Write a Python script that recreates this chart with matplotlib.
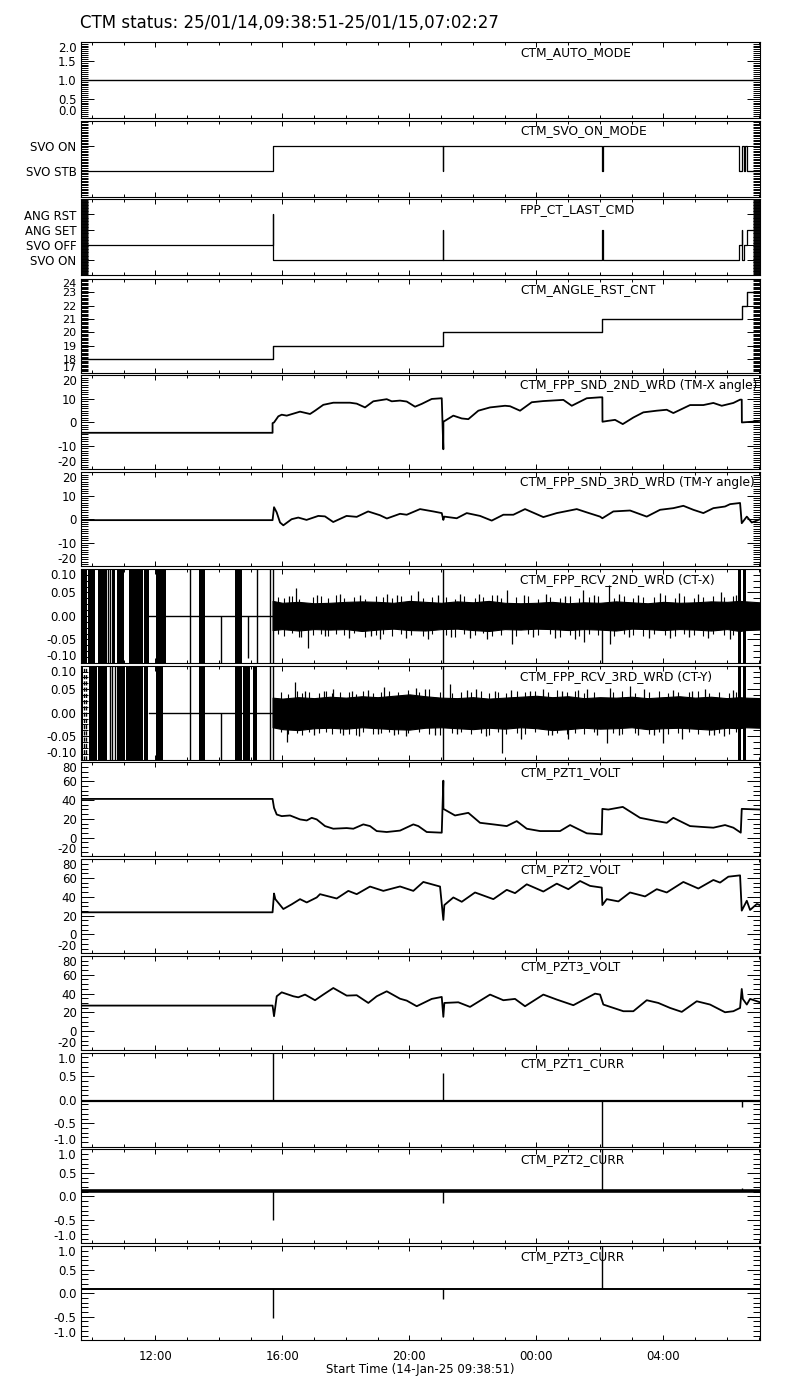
import numpy as np
import matplotlib
matplotlib.use('Agg')
import matplotlib.pyplot as plt
from matplotlib.ticker import MultipleLocator, FixedLocator, FuncFormatter, FormatStrFormatter

# time in hours from 00:00 14-Jan-25
t_start = 9 + 38/60. + 51/3600.
t_end = 24 + 7 + 2/60. + 27/3600.
T1 = 15.69
T2 = 21.07
T3 = 26.08
T4 = 30.466

title = "CTM status: 25/01/14,09:38:51-25/01/15,07:02:27"
xlabel = "Start Time (14-Jan-25 09:38:51)"

names = ["CTM_AUTO_MODE", "CTM_SVO_ON_MODE", "FPP_CT_LAST_CMD", "CTM_ANGLE_RST_CNT",
         "CTM_FPP_SND_2ND_WRD (TM-X angle)", "CTM_FPP_SND_3RD_WRD (TM-Y angle)",
         "CTM_FPP_RCV_2ND_WRD (CT-X)", "CTM_FPP_RCV_3RD_WRD (CT-Y)",
         "CTM_PZT1_VOLT", "CTM_PZT2_VOLT", "CTM_PZT3_VOLT",
         "CTM_PZT1_CURR", "CTM_PZT2_CURR", "CTM_PZT3_CURR"]

# state channels (step data)
auto_t = [t_start, t_end]
auto_v = [1, 1]
svo_t = [t_start, T1, T2, T2+0.001, T3, T3+0.001, 30.39, 30.466, 30.549, 30.58, 30.624, t_end]
svo_v = [0, 1, 0, 1, 0, 1, 0, 1, 0, 1, 0, 0]
svo_labels = ["SVO STB", "SVO ON"]
cmd_t = [t_start, T1, T1+0.001, T2, T2+0.001, T3, T3+0.001, 30.39, 30.466, 30.48, 30.549, 30.624, t_end]
cmd_v = [1, 3, 0, 2, 0, 2, 0, 1, 2, 0, 1, 2, 2]
cmd_labels = ["SVO ON", "SVO OFF", "ANG SET", "ANG RST"]
cnt_t = [t_start, T1, T2, T3, 30.466, 30.625, t_end]
cnt_v = [18, 19, 20, 21, 22, 23, 23]

# TM-X angle
sndx_t = [t_start, 15.69, 15.69, 15.736, 15.871, 15.978, 16.136, 16.555, 16.870, 17.027, 17.288,
          17.603, 18.129, 18.340, 18.602, 18.863, 19.285, 19.443, 19.704, 19.915, 20.177, 20.388,
          20.703, 21.018, 21.068, 21.07, 21.383, 21.648, 21.855, 22.170, 22.539, 23.011, 23.169,
          23.484, 23.852, 24.218, 24.848, 25.113, 25.585, 26.004, 26.076, 26.08, 26.265, 26.476,
          26.719, 27.052, 27.367, 27.789, 28.104, 28.312, 28.838, 29.257, 29.572, 29.836, 30.202,
          30.413, 30.466, 30.47, 30.781, 31.043]
sndx_v = [-4.4, -4.4, -0.3, 0.0, 2.6, 3.3, 2.9, 4.6, 3.6, 5.0, 7.5,
          8.4, 8.4, 8.0, 6.4, 9.0, 9.9, 9.0, 9.3, 8.9, 6.7, 7.9,
          10.0, 10.3, -11.4, 0.3, 2.9, 1.7, 1.4, 5.0, 6.4, 7.1, 6.9,
          5.0, 8.6, 9.1, 9.6, 7.1, 10.3, 10.7, 10.7, 0.3, 0.7, 1.1,
          -0.7, 2.1, 4.3, 5.0, 5.4, 4.0, 7.4, 7.4, 8.3, 7.1, 8.3,
          9.7, 9.7, 0.0, 0.3, 0.7]

# TM-Y angle
sndy_t = [t_start, 15.69, 15.736, 15.82, 15.925, 16.029, 16.29, 16.50, 16.76, 17.13, 17.34,
          17.60, 18.02, 18.34, 18.70, 19.07, 19.29, 19.704, 19.915, 20.334, 20.753, 21.018,
          21.068, 21.10, 21.49, 21.805, 22.224, 22.592, 22.958, 23.273, 23.641, 24.218, 24.640,
          25.270, 25.585, 26.004, 26.076, 26.422, 26.948, 27.474, 27.893, 28.312, 28.627, 28.942,
          29.257, 29.572, 29.940, 30.098, 30.413, 30.466, 30.625, 30.781, 30.940, 31.043]
sndy_v = [-0.4, -0.4, 5.1, 2.9, -1.4, -2.6, 0.0, 0.7, -0.3, 1.4, 1.2,
          -1.2, 1.4, 1.0, 3.3, 1.7, 0.3, 2.3, 1.9, 4.3, 3.3, 2.6,
          -0.3, 1.1, 0.4, 2.6, 1.4, -0.6, 1.9, 1.9, 4.3, 0.9, 2.6,
          4.3, 2.9, 1.1, 0.4, 3.3, 3.7, 1.1, 4.0, 4.7, 5.7, 4.0,
          2.6, 4.7, 5.4, 6.4, 6.9, -1.7, 1.1, -1.4, -0.6, 0.0]

# CT-X / CT-Y receive words: unstable part before servo on
rcvx_blocks = [(9.648, 9.846), (9.877, 10.098), (10.192, 10.476), (10.618, 10.728), (10.791, 11.011),
               (11.169, 11.619), (11.641, 11.799), (12.019, 12.334), (13.373, 13.563), (14.508, 14.728),
               (30.36, 30.435), (30.515, 30.59)]
rcvx_lines = [10.523, 10.570, 13.090, 15.210, 15.610, 15.69, 21.07]
rcvx_part_t = [14.076, 14.926, 26.08]
rcvx_part_v = [-0.1, -0.09, -0.1]
rcvy_blocks = [(9.648, 9.729), (9.918, 10.151), (10.202, 10.466), (10.781, 11.043), (11.074, 11.619),
               (11.641, 11.777), (12.019, 12.249), (13.383, 13.553), (14.517, 14.728), (14.769, 14.980),
               (15.084, 15.210), (30.36, 30.435), (30.515, 30.59)]
rcvy_lines = [10.570, 10.633, 10.728, 13.090, 15.610, 15.69, 21.07]
rcvy_dash = [9.767, 9.814]
rcvy_part_t = [14.076]
rcvy_part_v = [-0.1]
rcv_flat_t = [11.8, 15.69]

# noise band after servo on
env_t = [15.69, 16.0, 16.5, 17.0, 17.5, 18.0, 18.5, 19.0, 19.5, 20.0, 20.5, 21.0, 21.5, 22.0, 22.5,
         23.0, 23.5, 24.0, 24.5, 25.0, 25.5, 26.0, 26.5, 27.0, 27.5, 28.0, 28.5, 29.0, 29.5, 30.0,
         30.4, 30.6, 31.043]
rcvx_hi = [0.032, 0.028, 0.030, 0.027, 0.028, 0.030, 0.031, 0.030, 0.028, 0.032, 0.030, 0.028, 0.031,
           0.029, 0.032, 0.028, 0.027, 0.028, 0.030, 0.027, 0.029, 0.028, 0.031, 0.029, 0.027, 0.030,
           0.028, 0.029, 0.031, 0.030, 0.032, 0.031, 0.029]
rcvx_lo = [-0.030, -0.028, -0.031, -0.028, -0.029, -0.028, -0.032, -0.029, -0.027, -0.030, -0.031,
           -0.028, -0.027, -0.030, -0.032, -0.028, -0.029, -0.027, -0.028, -0.030, -0.028, -0.029,
           -0.031, -0.027, -0.028, -0.030, -0.028, -0.029, -0.031, -0.028, -0.032, -0.030, -0.029]
rcvy_hi = [0.032, 0.030, 0.033, 0.031, 0.034, 0.032, 0.035, 0.033, 0.036, 0.039, 0.035, 0.032, 0.031,
           0.033, 0.030, 0.032, 0.034, 0.036, 0.033, 0.035, 0.031, 0.033, 0.032, 0.034, 0.031, 0.033,
           0.035, 0.032, 0.034, 0.031, 0.033, 0.032, 0.031]
rcvy_lo = [-0.031, -0.035, -0.037, -0.033, -0.032, -0.034, -0.031, -0.033, -0.035, -0.036, -0.032,
           -0.031, -0.033, -0.035, -0.032, -0.034, -0.031, -0.033, -0.037, -0.035, -0.032, -0.034,
           -0.033, -0.031, -0.035, -0.033, -0.032, -0.034, -0.036, -0.032, -0.033, -0.031, -0.032]
# fuzz on the band edges
rcvx_hair_t = [15.85, 16.05, 16.3, 16.52, 16.95, 17.22, 17.45, 17.68, 17.95, 18.25,
               18.6, 18.95, 19.18, 19.45, 19.75, 20.05, 20.42, 20.72, 21.15, 21.42,
               21.72, 22.05, 22.32, 22.6, 22.88, 23.35, 23.72, 24.05, 24.42, 24.75,
               25.05, 25.35, 25.65, 25.95, 26.45, 26.75, 27.05, 27.35, 27.7, 28.05,
               28.35, 28.65, 28.95, 29.25, 29.55, 29.9, 30.2]
rcvx_hair_hi = [0.041, 0.038, 0.043, 0.037, 0.040, 0.042, 0.038, 0.044, 0.039, 0.041,
                0.037, 0.043, 0.040, 0.038, 0.042, 0.045, 0.039, 0.041, 0.040, 0.037,
                0.043, 0.039, 0.041, 0.044, 0.038, 0.040, 0.042, 0.037, 0.041, 0.039,
                0.043, 0.038, 0.040, 0.042, 0.039, 0.043, 0.038, 0.041, 0.040, 0.044,
                0.038, 0.042, 0.039, 0.041, 0.043, 0.040, 0.042]
rcvx_hair_lo = [-0.039, -0.042, -0.037, -0.044, -0.040, -0.038, -0.043, -0.039, -0.041, -0.037,
                -0.044, -0.040, -0.038, -0.042, -0.039, -0.041, -0.043, -0.038, -0.040, -0.044,
                -0.039, -0.041, -0.037, -0.042, -0.040, -0.043, -0.038, -0.041, -0.039, -0.044,
                -0.040, -0.042, -0.038, -0.041, -0.043, -0.039, -0.040, -0.042, -0.038, -0.041,
                -0.043, -0.039, -0.040, -0.042, -0.038, -0.041, -0.040]
rcvy_hair_t = [15.95, 16.18, 16.45, 16.62, 16.85, 17.15, 17.38, 17.55, 17.82, 18.1,
               18.32, 18.55, 18.85, 19.1, 19.35, 19.65, 19.95, 20.3, 20.62, 20.95,
               21.35, 21.62, 21.95, 22.25, 22.52, 22.8, 23.05, 23.4, 23.65, 23.95,
               24.35, 24.65, 24.95, 25.2, 25.5, 25.8, 26.4, 26.7, 27.1, 27.55,
               27.85, 28.15, 28.45, 28.8, 29.1, 29.45, 29.75, 30.05, 30.3]
rcvy_hair_hi = [0.043, 0.040, 0.046, 0.041, 0.044, 0.042, 0.047, 0.041, 0.045, 0.043,
                0.040, 0.046, 0.042, 0.044, 0.047, 0.043, 0.048, 0.045, 0.050, 0.043,
                0.041, 0.045, 0.043, 0.046, 0.041, 0.044, 0.042, 0.046, 0.043, 0.047,
                0.044, 0.048, 0.043, 0.046, 0.042, 0.045, 0.043, 0.046, 0.041, 0.044,
                0.047, 0.042, 0.045, 0.043, 0.046, 0.041, 0.044, 0.042, 0.045]
rcvy_hair_lo = [-0.041, -0.045, -0.043, -0.047, -0.042, -0.044, -0.041, -0.046, -0.043, -0.045,
                -0.048, -0.042, -0.045, -0.043, -0.041, -0.046, -0.044, -0.042, -0.045, -0.047,
                -0.043, -0.041, -0.046, -0.044, -0.047, -0.042, -0.045, -0.043, -0.046, -0.042,
                -0.047, -0.044, -0.045, -0.043, -0.046, -0.041, -0.044, -0.046, -0.043, -0.045,
                -0.042, -0.046, -0.044, -0.041, -0.045, -0.047, -0.043, -0.046, -0.042]
rcvx_spk_t = [16.43, 16.82, 16.2, 16.6, 17.1, 17.35, 17.8, 18.1, 18.45, 18.8, 19.07, 19.3, 19.6, 19.9,
              20.28, 20.6, 20.9, 21.3, 21.6, 21.9, 22.2, 22.45, 22.75, 23.07, 23.22, 23.6, 23.9, 24.3,
              24.6, 24.9, 25.2, 25.48, 25.5, 25.8, 26.27, 26.32, 26.6, 26.9, 27.2, 27.55, 27.9, 28.2,
              28.5, 28.8, 29.1, 29.4, 29.8, 30.1, 30.3]
rcvx_spk_v = [0.060, -0.069, 0.042, -0.045, 0.044, -0.042, 0.047, -0.046, 0.045, -0.043, -0.050, 0.046,
              0.044, -0.047, 0.053, -0.048, 0.045, -0.044, 0.047, -0.046, 0.046, -0.049, 0.044, 0.055,
              -0.060, 0.045, -0.044, 0.047, -0.046, 0.043, -0.048, 0.055, -0.056, 0.045, 0.065, -0.060,
              0.046, -0.045, 0.045, -0.047, 0.048, -0.046, 0.048, -0.045, 0.046, -0.047, 0.050, -0.050,
              0.045]
rcvy_spk_t = [16.14, 16.40, 16.7, 17.0, 17.3, 17.6, 17.9, 18.2, 18.4, 18.7, 19.0, 19.2, 19.5, 19.9,
              20.2, 20.5, 20.8, 21.28, 21.5, 21.8, 22.1, 22.4, 22.7, 22.91, 23.2, 23.5, 23.8, 24.2,
              24.5, 24.8, 25.0, 25.3, 25.6, 25.9, 26.21, 26.32, 26.6, 26.95, 27.2, 27.4, 27.7, 28.0,
              28.3, 28.6, 28.9, 29.3, 29.6, 29.9, 30.2]
rcvy_spk_v = [-0.062, 0.065, 0.046, -0.048, 0.047, 0.050, -0.047, 0.046, -0.050, 0.048, -0.046, 0.055,
              -0.048, -0.050, 0.052, 0.050, -0.047, 0.062, -0.046, 0.048, 0.050, -0.049, 0.047, -0.085,
              0.048, -0.055, 0.046, 0.050, -0.048, 0.047, -0.055, 0.049, 0.050, -0.047, -0.064, 0.053,
              -0.048, 0.057, -0.047, 0.050, -0.048, -0.064, 0.048, -0.055, 0.047, 0.050, -0.048, -0.050,
              0.048]

# PZT voltages
pzt1_t = [t_start, 15.69, 15.736, 15.821, 15.978, 16.240, 16.555, 16.766, 16.923, 17.081, 17.342,
          17.603, 18.025, 18.233, 18.548, 18.759, 18.970, 19.285, 19.704, 20.123, 20.281, 20.545,
          21.018, 21.068, 21.07, 21.436, 21.855, 22.224, 22.643, 23.065, 23.380, 23.695, 24.114,
          24.744, 25.059, 25.585, 26.057, 26.076, 26.265, 26.719, 27.263, 27.789, 28.104, 28.312,
          28.838, 29.257, 29.572, 29.940, 30.202, 30.435, 30.466, 31.043]
pzt1_v = [41.2, 41.2, 31.7, 24.6, 22.9, 23.6, 19.4, 18.3, 21.1, 19.4, 12.3,
          9.5, 10.2, 9.5, 14.1, 12.3, 7.0, 6.0, 7.5, 14.1, 12.3, 6.0,
          5.3, 60.6, 30.6, 23.6, 26.4, 15.8, 14.1, 12.3, 17.6, 9.5, 7.0,
          7.0, 13.4, 4.6, 3.5, 30.6, 29.9, 32.7, 21.1, 17.6, 15.8, 21.1,
          12.3, 11.3, 10.6, 13.4, 10.6, 5.3, 30.6, 29.9]
pzt2_t = [t_start, 15.69, 15.736, 15.777, 16.029, 16.293, 16.555, 16.766, 17.081, 17.184, 17.710,
          18.076, 18.340, 18.759, 19.178, 19.704, 20.123, 20.438, 20.964, 21.068, 21.10, 21.383,
          21.648, 22.066, 22.643, 23.065, 23.326, 23.695, 24.218, 24.640, 25.005, 25.374, 25.689,
          26.057, 26.076, 26.214, 26.581, 26.948, 27.421, 27.789, 28.104, 28.627, 29.099, 29.572,
          29.783, 30.044, 30.413, 30.466, 30.625, 30.728, 30.940, 31.043]
pzt2_v = [23.5, 23.5, 43.5, 37.5, 27.0, 32.0, 37.5, 34.0, 39.3, 42.8, 38.2,
          46.3, 42.8, 50.9, 46.3, 51.0, 46.3, 55.8, 50.9, 15.4, 31.2, 39.3,
          34.7, 44.6, 37.5, 47.4, 43.9, 53.3, 45.6, 54.0, 48.1, 56.8, 51.6,
          49.8, 31.2, 37.5, 35.1, 44.6, 40.4, 48.1, 44.6, 55.8, 48.8, 57.9,
          55.1, 61.4, 62.8, 25.3, 35.8, 26.0, 32.3, 31.2]
pzt3_t = [t_start, 15.69, 15.736, 15.821, 15.978, 16.344, 16.501, 16.712, 17.027, 17.288, 17.603,
          18.025, 18.340, 18.706, 18.970, 19.285, 19.704, 19.915, 20.230, 20.703, 21.018, 21.068,
          21.10, 21.540, 21.909, 22.539, 22.958, 23.326, 23.641, 24.218, 24.640, 25.162, 25.846,
          26.004, 26.107, 26.265, 26.738, 27.052, 27.474, 27.839, 28.208, 28.577, 29.049, 29.468,
          29.940, 30.202, 30.413, 30.466, 30.50, 30.625, 30.728, 31.043]
pzt3_v = [27.2, 27.2, 15.9, 37.1, 41.3, 37.1, 36.0, 38.9, 32.9, 38.9, 45.9,
          37.8, 38.2, 30.0, 37.1, 42.4, 34.5, 32.5, 26.5, 34.3, 36.4, 15.2,
          30.0, 30.7, 25.8, 38.9, 32.9, 34.3, 26.5, 38.9, 33.6, 27.6, 39.9,
          38.9, 28.3, 26.5, 21.2, 21.2, 32.9, 30.0, 24.7, 20.5, 31.8, 28.3,
          20.1, 21.2, 24.7, 44.9, 34.3, 28.3, 34.3, 30.7]

# PZT currents: baseline + spikes
curr_base = [-0.03, 0.12, 0.10]
curr_spk_t = [[T1, T2, T3, T4], [T1, T2, T3, T4], [T1, T2, T3]]
curr_spk_v = [[1.0, 0.57, -1.0, -0.15], [-0.51, -0.14, 1.0, 0.18], [-0.52, -0.13, 1.0]]
curr_lw = [1.6, 2.6, 1.4]

W, H = 800, 1400
fig = plt.figure(figsize=(8, 14), dpi=100)
ax_left, ax_w = 80.7, 679.3
tops = [41.7, 120.5, 199.3] + [278.7 + i*96.75 for i in range(11)]
heights = [76, 76, 76] + [94]*11

axes = []
for i in range(14):
    ax = fig.add_axes([ax_left/W, 1 - (tops[i] + heights[i])/H, ax_w/W, heights[i]/H])
    ax.set_xlim(t_start, t_end)
    ax.xaxis.set_major_locator(MultipleLocator(4))
    ax.xaxis.set_minor_locator(MultipleLocator(1))
    ax.xaxis.set_major_formatter(FuncFormatter(lambda v, p: '%02d:00' % (int(round(v)) % 24)))
    ax.tick_params(axis='both', which='both', direction='in', top=True, right=True,
                   width=0.7, labelsize=8.5, colors='black')
    ax.tick_params(axis='y', which='major', length=9.5, pad=3)
    ax.tick_params(axis='y', which='minor', length=5)
    ax.tick_params(axis='x', which='major', length=3.8, pad=7)
    ax.tick_params(axis='x', which='minor', length=2.2)
    if i < 13:
        ax.tick_params(axis='x', labelbottom=False)
    for s in ax.spines.values():
        s.set_linewidth(0.8)
    ax.text((520 - ax_left)/ax_w, 1 - 4.0/heights[i], names[i], transform=ax.transAxes,
            ha='left', va='top', fontsize=8.8)
    axes.append(ax)

def set_y(ax, lo, hi, major, minor, fmt):
    ax.set_ylim(lo, hi)
    ax.yaxis.set_major_locator(MultipleLocator(major))
    ax.yaxis.set_minor_locator(MultipleLocator(minor))
    ax.yaxis.set_major_formatter(FormatStrFormatter(fmt))

# 1
ax = axes[0]
ax.plot(auto_t, auto_v, color='k', lw=1.0)
set_y(ax, 0, 2, 0.5, 0.05, '%.1f')
# 2
ax = axes[1]
ax.plot(svo_t, svo_v, color='k', lw=0.9, drawstyle='steps-post')
ax.set_ylim(-1, 2)
ax.yaxis.set_major_locator(FixedLocator([0, 1]))
ax.set_yticklabels(svo_labels)
ax.yaxis.set_minor_locator(MultipleLocator(0.0625))
# 3
ax = axes[2]
ax.plot(cmd_t, cmd_v, color='k', lw=0.9, drawstyle='steps-post')
ax.set_ylim(-1, 4)
ax.yaxis.set_major_locator(FixedLocator([0, 1, 2, 3]))
ax.set_yticklabels(cmd_labels)
ax.yaxis.set_minor_locator(MultipleLocator(0.05))
# 4
ax = axes[3]
ax.plot(cnt_t, cnt_v, color='k', lw=1.0, drawstyle='steps-post')
set_y(ax, 17, 24, 1, 0.1, '%d')
ax.tick_params(axis='y', labelsize=8)
# 5, 6
axes[4].plot(sndx_t, sndx_v, color='k', lw=1.3)
set_y(axes[4], -20, 20, 10, 1, '%d')
axes[5].plot(sndy_t, sndy_v, color='k', lw=1.3)
set_y(axes[5], -20, 20, 10, 1, '%d')

# 7, 8
for ax, blocks, lines, pt, pv, hi, lo, ht, hh, hl, st, sv in [
        (axes[6], rcvx_blocks, rcvx_lines, rcvx_part_t, rcvx_part_v, rcvx_hi, rcvx_lo,
         rcvx_hair_t, rcvx_hair_hi, rcvx_hair_lo, rcvx_spk_t, rcvx_spk_v),
        (axes[7], rcvy_blocks, rcvy_lines, rcvy_part_t, rcvy_part_v, rcvy_hi, rcvy_lo,
         rcvy_hair_t, rcvy_hair_hi, rcvy_hair_lo, rcvy_spk_t, rcvy_spk_v)]:
    for b0, b1 in blocks:
        ax.axvspan(b0, b1, color='k', lw=0)
    ax.vlines(lines, -0.1, 0.1, color='k', lw=1.0)
    ax.vlines(pt, 0, pv, color='k', lw=1.0)
    ax.plot(rcv_flat_t, [0, 0], color='k', lw=1.0)
    ax.fill_between(env_t, lo, hi, color='k', lw=0.8)
    ax.vlines(ht, hl, hh, color='k', lw=0.8)
    ax.vlines(st, 0, sv, color='k', lw=0.9)
    set_y(ax, -0.1, 0.1, 0.05, 0.0125, '%.2f')
axes[7].vlines(rcvy_dash, -0.1, 0.1, color='k', lw=1.0, linestyles=(0, (3, 1.5)))

# 9-11
for ax, tt, vv in [(axes[8], pzt1_t, pzt1_v), (axes[9], pzt2_t, pzt2_v), (axes[10], pzt3_t, pzt3_v)]:
    ax.plot(tt, vv, color='k', lw=1.3)
    set_y(ax, -20, 80, 20, 5, '%d')

# 12-14
for k in range(3):
    ax = axes[11 + k]
    ax.plot([t_start, t_end], [curr_base[k], curr_base[k]], color='k', lw=curr_lw[k])
    ax.vlines(curr_spk_t[k], curr_base[k], curr_spk_v[k], color='k', lw=1.0)
    set_y(ax, -1, 1, 0.5, 0.1, '%.1f')

fig.text(80/W, 1 - 23/H, title, ha='left', va='center', fontsize=12)
fig.text((ax_left + ax_w/2)/W, 1 - 1370/H, xlabel, ha='center', va='center', fontsize=8.5)

# keep end labels inside the panel, as IDL does
fig.canvas.draw()
for i, ax in enumerate(axes):
    if i in (1, 2):
        continue
    lo, hi = ax.get_ylim()
    tol = 1e-6 * (hi - lo)
    for tick in ax.yaxis.get_major_ticks():
        loc = tick.get_loc()
        if abs(loc - hi) < tol:
            tick.label1.set_va('top')
        elif abs(loc - lo) < tol:
            tick.label1.set_va('bottom')

fig.savefig('out.png', dpi=100, facecolor='white')
